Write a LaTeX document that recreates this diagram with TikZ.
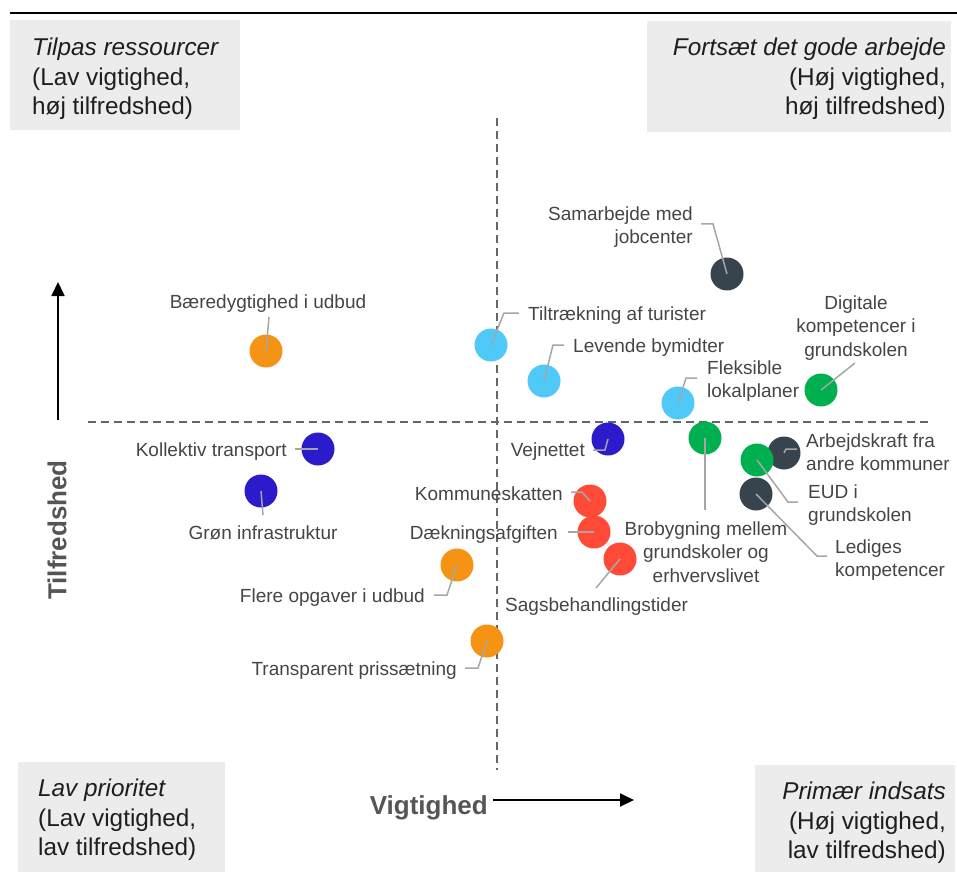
\documentclass[tikz,border=0pt]{standalone}
\usepackage{fontspec}
\setmainfont{Liberation Sans}
\usetikzlibrary{arrows.meta}
\definecolor{cdark}{HTML}{37434D}
\definecolor{cgreen}{HTML}{00B050}
\definecolor{clight}{HTML}{4FC9F7}
\definecolor{cblue}{HTML}{2B1BCB}
\definecolor{corange}{HTML}{F59314}
\definecolor{cred}{HTML}{FF4A38}
\definecolor{boxgray}{HTML}{EBECEB}
\definecolor{labelgray}{HTML}{454545}
\definecolor{leadgray}{HTML}{A6A6A6}
\definecolor{dashgray}{HTML}{666666}
\definecolor{axisgray}{HTML}{555555}
\definecolor{boxtext}{HTML}{1E1E1E}
\begin{document}
\begin{tikzpicture}[x=1pt,y=-1pt,
  dot/.style={circle,inner sep=0pt,minimum size=33pt,fill=#1},
  lbl/.style={font=\fontsize{19}{23.5}\selectfont,text=labelgray,inner sep=0pt},
  lead/.style={draw=leadgray,line width=1.5pt},
  quad/.style={fill=boxgray},
  quadtxt/.style={font=\fontsize{24.3}{29.3}\selectfont,text=boxtext,inner sep=0pt},
  divider/.style={draw=dashgray,line width=1.8pt,dash pattern=on 8pt off 5pt},
  axisarrow/.style={draw=black,line width=1.8pt,-{Triangle[width=13pt,length=14pt]}},
  axislbl/.style={font=\fontsize{26}{30}\selectfont\bfseries,text=axisgray,inner sep=0pt}]
\useasboundingbox (0,0) rectangle (957,877);

% top rule
\coordinate (r1) at (10,13);
\coordinate (r2) at (957,13);
\draw[line width=2.5pt] (r1) -- (r2);

% quadrant boxes
\fill[quad] (10,20) rectangle (240,130);
\fill[quad] (647,21) rectangle (951,132);
\fill[quad] (18,762) rectangle (225,872);
\fill[quad] (755,765) rectangle (955,872);

\node[quadtxt,anchor=north west,align=left] (qtl) at (32,38)
  {\itshape Tilpas ressourcer\\(Lav vigtighed,\\høj tilfredshed)};
\node[quadtxt,anchor=north east,align=right] (qtr) at (946,38)
  {\itshape Fortsæt det gode arbejde\\(Høj vigtighed,\\høj tilfredshed)};
\node[quadtxt,anchor=north west,align=left] (qbl) at (38,779)
  {\itshape Lav prioritet\\(Lav vigtighed,\\lav tilfredshed)};
\node[quadtxt,anchor=north east,align=right] (qbr) at (946,782)
  {\itshape Primær indsats\\(Høj vigtighed,\\lav tilfredshed)};

% dashed dividers
\coordinate (v1) at (497,118);
\coordinate (v2) at (497,770);
\coordinate (h1) at (88,422);
\coordinate (h2) at (930,422);
\draw[divider] (v1) -- (v2);
\draw[divider] (h1) -- (h2);

% axes
\coordinate (ya) at (58,420);
\coordinate (yb) at (58,282);
\draw[axisarrow] (ya) -- (yb);
\node[axislbl,rotate=90] (ylab) at (57,530) {Tilfredshed};
\coordinate (xa) at (493,800);
\coordinate (xb) at (634,800);
\draw[axisarrow] (xa) -- (xb);
\node[axislbl,anchor=base east] (xlab) at (488,814) {Vigtighed};

% circles
\node[dot=cdark] (c1) at (727,274) {};
\node[dot=clight] (c2) at (491,345) {};
\node[dot=clight] (c3) at (544,381) {};
\node[dot=clight] (c4) at (678,403) {};
\node[dot=cgreen] (c5) at (821,390) {};
\node[dot=cblue] (c6) at (608,439) {};
\node[dot=cgreen] (c7) at (705,438) {};
\node[dot=cdark] (c8) at (784,453) {};
\node[dot=cgreen] (c9) at (757,460) {};
\node[dot=cdark] (c10) at (756,494) {};
\node[dot=cred] (c11) at (590,501) {};
\node[dot=cred] (c12) at (594,532) {};
\node[dot=cred] (c13) at (620,559) {};
\node[dot=corange] (c14) at (266,351) {};
\node[dot=cblue] (c15) at (318,449) {};
\node[dot=cblue] (c16) at (261,491) {};
\node[dot=corange] (c17) at (457,565) {};
\node[dot=corange] (c18) at (487,641) {};

% labels
\node[lbl,anchor=east,align=right] (l1) at (693,227) {Samarbejde med\\jobcenter};
\node[lbl,anchor=west] (l2) at (528,316) {Tiltrækning af turister};
\node[lbl,anchor=west] (l3) at (573,348) {Levende bymidter};
\node[lbl,anchor=west,align=left] (l4) at (707,381) {Fleksible\\lokalplaner};
\node[lbl,align=center] (l5) at (856,328) {Digitale\\kompetencer i\\grundskolen};
\node[lbl,anchor=east] (l6) at (585,452) {Vejnettet};
\node[lbl,align=center] (l7) at (706,552) {Brobygning mellem\\grundskoler og\\erhvervslivet};
\node[lbl,anchor=west,align=left] (l8) at (806,452) {Arbejdskraft fra\\andre kommuner};
\node[lbl,anchor=west,align=left] (l9) at (808,505) {EUD i\\grundskolen};
\node[lbl,anchor=west,align=left] (l10) at (835,560) {Lediges\\kompetencer};
\node[lbl,anchor=east] (l11) at (563,494) {Kommuneskatten};
\node[lbl,anchor=east] (l12) at (558,535) {Dækningsafgiften};
\node[lbl,anchor=west] (l13) at (505,607) {Sagsbehandlingstider};
\node[lbl] (l14) at (268,304) {Bæredygtighed i udbud};
\node[lbl,anchor=east] (l15) at (287,452) {Kollektiv transport};
\node[lbl] (l16) at (263,533) {Grøn infrastruktur};
\node[lbl,anchor=east] (l17) at (425,598) {Flere opgaver i udbud};
\node[lbl,anchor=east] (l18) at (457,671) {Transparent prissætning};

% leader ends
\coordinate (e1) at (701,224);
\coordinate (e2) at (519,313);
\coordinate (e3) at (564,345);
\coordinate (e4) at (697,378);
\coordinate (e5) at (855,363);
\coordinate (e6) at (593,450);
\coordinate (e7) at (705,510);
\coordinate (e8) at (797,449);
\coordinate (e9) at (798,502);
\coordinate (e10) at (827,556);
\coordinate (e11) at (571,492);
\coordinate (e12) at (568,532);
\coordinate (e13) at (596,588);
\coordinate (e14) at (269,317);
\coordinate (e15) at (295,449);
\coordinate (e16) at (263,515);
\coordinate (e17) at (434,595);
\coordinate (e18) at (465,668);

% leaders
\draw[lead] (c1.center) -- (713,224) -- (e1);
\draw[lead] (c2.center) -- (504,313) -- (e2);
\draw[lead] (c3.center) -- (553,345) -- (e3);
\draw[lead] (c4.center) -- (686,378) -- (e4);
\draw[lead] (c5.center) -- (e5);
\draw[lead] (c6.center) -- (605,450) -- (e6);
\draw[lead] (c7.center) -- (e7);
\draw[lead] (c8.center) -- (786,449) -- (e8);
\draw[lead] (c9.center) -- (788,502) -- (e9);
\draw[lead] (c10.center) -- (817,556) -- (e10);
\draw[lead] (c11.center) -- (582,492) -- (e11);
\draw[lead] (c12.center) -- (e12);
\draw[lead] (c13.center) -- (e13);
\draw[lead] (c14.center) -- (e14);
\draw[lead] (c15.center) -- (e15);
\draw[lead] (c16.center) -- (e16);
\draw[lead] (c17.center) -- (447,595) -- (e17);
\draw[lead] (c18.center) -- (478,668) -- (e18);
\end{tikzpicture}
\end{document}
